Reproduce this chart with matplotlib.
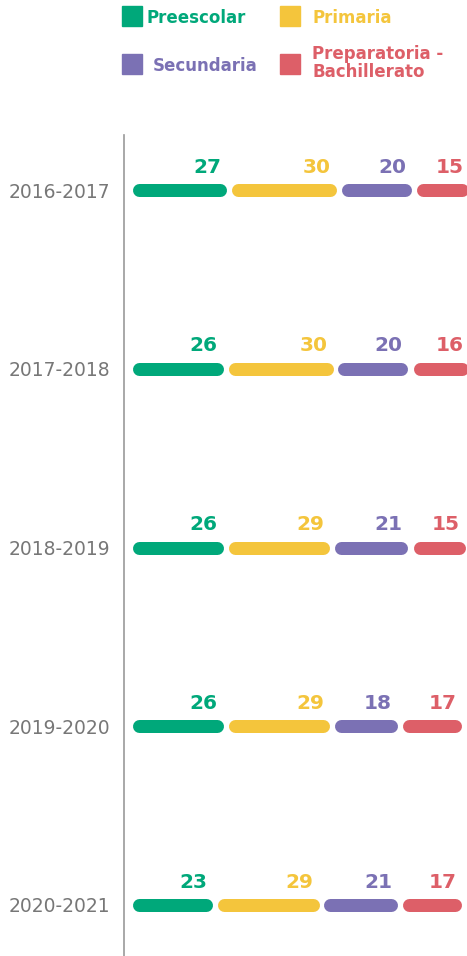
import numpy as np
import matplotlib.pyplot as plt
from matplotlib.patches import Rectangle

plt.rcParams['font.family'] = ['DejaVu Sans']

years = ['2016-2017', '2017-2018', '2018-2019', '2019-2020', '2020-2021']
niveles = ['Preescolar', 'Primaria', 'Secundaria', 'Preparatoria -\nBachillerato']
preescolar = [27, 26, 26, 26, 23]
primaria = [30, 30, 29, 29, 29]
secundaria = [20, 20, 21, 18, 21]
preparatoria = [15, 16, 15, 17, 17]
colores = ['#00a87a', '#f4c53c', '#7b71b4', '#dd5f68']

series = [preescolar, primaria, secundaria, preparatoria]

fig = plt.figure(figsize=(4.67, 9.56), dpi=100)
ax = fig.add_axes([124 / 467, 0, 1 - 124 / 467, 1 - 135 / 956])

px = 3.5            # pixels per unit on x
gap = 5 / px        # space between segments
cap = 6.5 / px      # round cap radius
lw = 13 * 72 / 100  # bar thickness in points

for r, year in enumerate(years):
    cum = 0
    for i, vals in enumerate(series):
        v = vals[r]
        left = cum + i * gap
        right = left + v
        ax.plot([left + cap, right - cap], [r, r], color=colores[i], lw=lw,
                solid_capstyle='round', clip_on=True)
        ax.annotate(str(v), (right, r), xytext=(-4, 12.5), textcoords='offset points',
                    ha='right', va='baseline', color=colores[i], fontsize=14.5,
                    fontweight='bold', annotation_clip=False)
        cum += v

ax.set_xlim(-8 / px, (467 - 132) / px)
ax.set_ylim(4 + 51 / 178.75, -55 / 178.75)
ax.set_yticks(range(len(years)))
ax.set_yticklabels(years, fontsize=13.5, color='#777777')
ax.tick_params(axis='y', length=0, pad=10)
ax.set_xticks([])
for s in ['top', 'right', 'bottom']:
    ax.spines[s].set_visible(False)
ax.spines['left'].set_color('#999999')
ax.spines['left'].set_linewidth(1.2)

# legend drawn by hand in two rows
W, H = 467, 956
legend_pos = [(122, 6, 147, 18), (280, 6, 312, 18), (122, 54, 153, 66), (280, 54, 312, 63)]
for (sx, sy, tx, ty), nombre, c in zip(legend_pos, niveles, colores):
    fig.patches.append(Rectangle((sx / W, 1 - (sy + 20) / H), 20 / W, 20 / H,
                                 transform=fig.transFigure, color=c))
    fig.text(tx / W, 1 - ty / H, nombre, color=c, fontsize=12, fontweight='bold',
             ha='left', va='center', linespacing=0.95)

fig.savefig('out.png', dpi=100)
